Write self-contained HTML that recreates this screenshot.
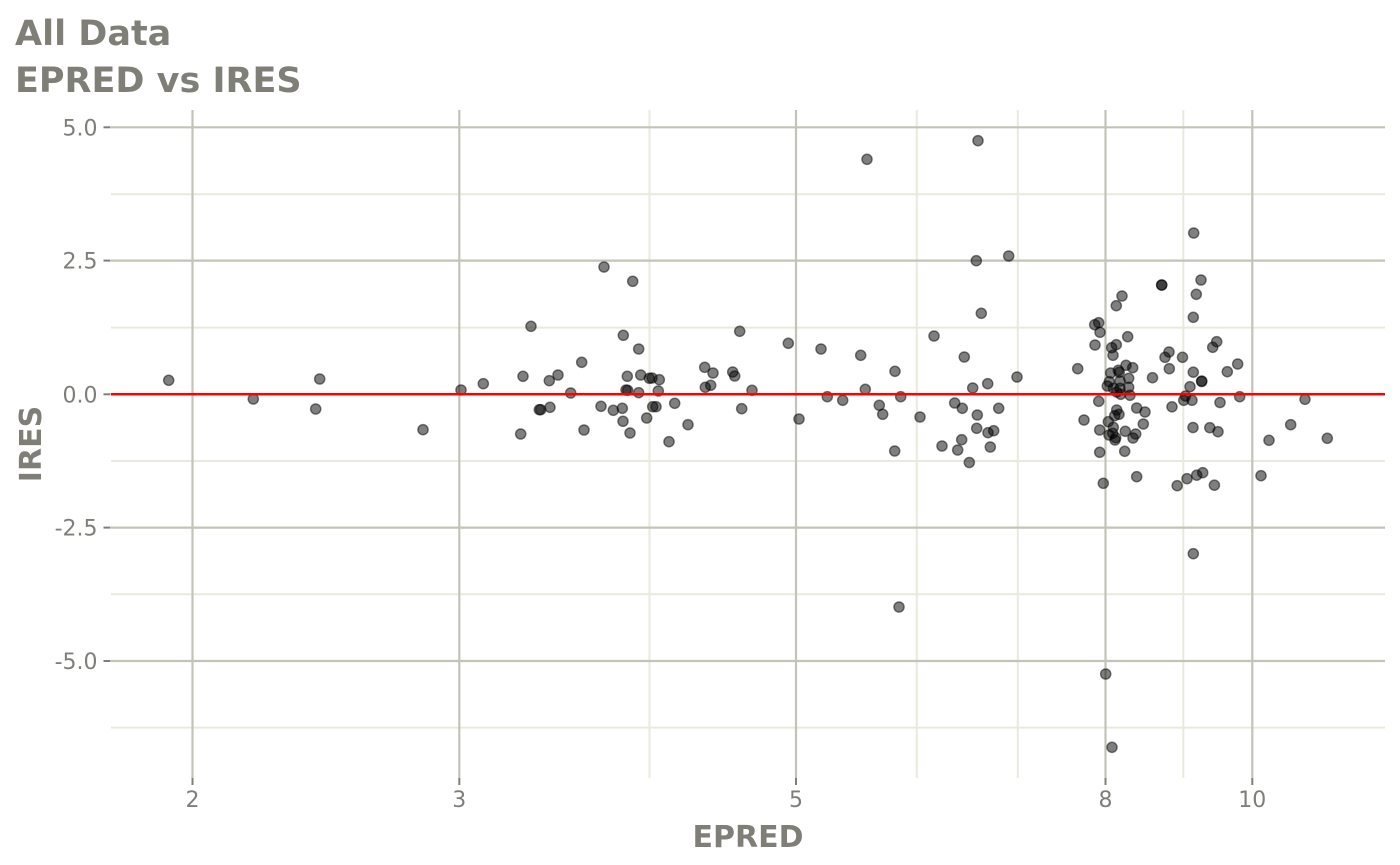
<!DOCTYPE html>
<html><head><meta charset="utf-8"><style>
html,body{margin:0;padding:0;background:#fff;}
svg{display:block;}
</style></head><body>
<svg width="1400" height="865" viewBox="0 0 1400 865" xmlns="http://www.w3.org/2000/svg" font-family="DejaVu Sans, Liberation Sans, sans-serif">
<rect width="1400" height="865" fill="#fff"/>
<g stroke="#e9e9dd" stroke-width="2">
<line x1="111" x2="1385" y1="194.3" y2="194.3"/>
<line x1="111" x2="1385" y1="327.6" y2="327.6"/>
<line x1="111" x2="1385" y1="461" y2="461"/>
<line x1="111" x2="1385" y1="594.3" y2="594.3"/>
<line x1="111" x2="1385" y1="727.6" y2="727.6"/>
<line x1="649.5" x2="649.5" y1="110" y2="778"/>
<line x1="916.8" x2="916.8" y1="110" y2="778"/>
<line x1="1017.8" x2="1017.8" y1="110" y2="778"/>
<line x1="1183.3" x2="1183.3" y1="110" y2="778"/>
</g>
<g stroke="#c3c3b7" stroke-width="2.2">
<line x1="111" x2="1385" y1="127.3" y2="127.3"/>
<line x1="111" x2="1385" y1="260.6" y2="260.6"/>
<line x1="111" x2="1385" y1="527.6" y2="527.6"/>
<line x1="111" x2="1385" y1="661" y2="661"/>
<line x1="111" x2="1385" y1="394.3" y2="394.3"/>
<line x1="192.5" x2="192.5" y1="110" y2="778"/>
<line x1="459.3" x2="459.3" y1="110" y2="778"/>
<line x1="796" x2="796" y1="110" y2="778"/>
<line x1="1105.5" x2="1105.5" y1="110" y2="778"/>
<line x1="1252.3" x2="1252.3" y1="110" y2="778"/>
</g>
<g stroke="#7f7f7a" stroke-width="2">
<line x1="103.5" x2="110.5" y1="127.3" y2="127.3"/>
<line x1="103.5" x2="110.5" y1="260.6" y2="260.6"/>
<line x1="103.5" x2="110.5" y1="394.3" y2="394.3"/>
<line x1="103.5" x2="110.5" y1="527.6" y2="527.6"/>
<line x1="103.5" x2="110.5" y1="661" y2="661"/>
<line x1="192.5" x2="192.5" y1="778" y2="785"/>
<line x1="459.3" x2="459.3" y1="778" y2="785"/>
<line x1="796" x2="796" y1="778" y2="785"/>
<line x1="1105.5" x2="1105.5" y1="778" y2="785"/>
<line x1="1252.3" x2="1252.3" y1="778" y2="785"/>
</g>
<g fill="#000" fill-opacity="0.5" stroke="#000" stroke-opacity="0.5" stroke-width="1.4">
<circle cx="168.7" cy="380.3" r="5.1"/>
<circle cx="253.3" cy="399" r="5.1"/>
<circle cx="319.7" cy="379" r="5.1"/>
<circle cx="315.7" cy="409" r="5.1"/>
<circle cx="423" cy="429.7" r="5.1"/>
<circle cx="461" cy="390" r="5.1"/>
<circle cx="483.3" cy="383.7" r="5.1"/>
<circle cx="531" cy="326.3" r="5.1"/>
<circle cx="523" cy="376.3" r="5.1"/>
<circle cx="520.7" cy="434" r="5.1"/>
<circle cx="549.3" cy="380.7" r="5.1"/>
<circle cx="558" cy="375" r="5.1"/>
<circle cx="539.3" cy="409.7" r="5.1"/>
<circle cx="540.7" cy="409.7" r="5.1"/>
<circle cx="550" cy="407.3" r="5.1"/>
<circle cx="604" cy="267" r="5.1"/>
<circle cx="632.7" cy="281.3" r="5.1"/>
<circle cx="623.3" cy="335.3" r="5.1"/>
<circle cx="638.7" cy="349" r="5.1"/>
<circle cx="581.7" cy="362.3" r="5.1"/>
<circle cx="739.7" cy="331.3" r="5.1"/>
<circle cx="788.3" cy="343.3" r="5.1"/>
<circle cx="821" cy="349" r="5.1"/>
<circle cx="860.7" cy="355.3" r="5.1"/>
<circle cx="934" cy="336" r="5.1"/>
<circle cx="964.3" cy="357" r="5.1"/>
<circle cx="895" cy="371.3" r="5.1"/>
<circle cx="704.7" cy="367.3" r="5.1"/>
<circle cx="713" cy="373" r="5.1"/>
<circle cx="732.7" cy="372" r="5.1"/>
<circle cx="734.7" cy="376" r="5.1"/>
<circle cx="627.3" cy="376.3" r="5.1"/>
<circle cx="640.7" cy="375" r="5.1"/>
<circle cx="649.3" cy="378.3" r="5.1"/>
<circle cx="652" cy="378" r="5.1"/>
<circle cx="659.3" cy="379.7" r="5.1"/>
<circle cx="570.7" cy="393" r="5.1"/>
<circle cx="626" cy="390" r="5.1"/>
<circle cx="627.7" cy="390.3" r="5.1"/>
<circle cx="638.7" cy="392.7" r="5.1"/>
<circle cx="658.3" cy="391" r="5.1"/>
<circle cx="705.3" cy="387.3" r="5.1"/>
<circle cx="710.7" cy="385.3" r="5.1"/>
<circle cx="752" cy="390.3" r="5.1"/>
<circle cx="865.3" cy="389.3" r="5.1"/>
<circle cx="972.7" cy="388" r="5.1"/>
<circle cx="827.3" cy="396.7" r="5.1"/>
<circle cx="842.7" cy="400.3" r="5.1"/>
<circle cx="900.7" cy="396.7" r="5.1"/>
<circle cx="601" cy="406.3" r="5.1"/>
<circle cx="613.3" cy="410.3" r="5.1"/>
<circle cx="622.3" cy="408.3" r="5.1"/>
<circle cx="652.7" cy="406.7" r="5.1"/>
<circle cx="656" cy="406.7" r="5.1"/>
<circle cx="674.7" cy="403.3" r="5.1"/>
<circle cx="741.7" cy="408.7" r="5.1"/>
<circle cx="879.3" cy="405.3" r="5.1"/>
<circle cx="882.7" cy="414.3" r="5.1"/>
<circle cx="954.7" cy="403" r="5.1"/>
<circle cx="962.3" cy="408.3" r="5.1"/>
<circle cx="977.3" cy="415" r="5.1"/>
<circle cx="623" cy="421.3" r="5.1"/>
<circle cx="646.7" cy="418" r="5.1"/>
<circle cx="799" cy="419" r="5.1"/>
<circle cx="920" cy="417" r="5.1"/>
<circle cx="976.7" cy="428.3" r="5.1"/>
<circle cx="584" cy="430" r="5.1"/>
<circle cx="630" cy="433" r="5.1"/>
<circle cx="688" cy="424.7" r="5.1"/>
<circle cx="669" cy="441.7" r="5.1"/>
<circle cx="894.7" cy="451" r="5.1"/>
<circle cx="942" cy="446" r="5.1"/>
<circle cx="957.7" cy="450" r="5.1"/>
<circle cx="961.7" cy="439.7" r="5.1"/>
<circle cx="969.3" cy="462.5" r="5.1"/>
<circle cx="1008.7" cy="256" r="5.1"/>
<circle cx="976.3" cy="260.7" r="5.1"/>
<circle cx="981.3" cy="313.3" r="5.1"/>
<circle cx="987.7" cy="383.7" r="5.1"/>
<circle cx="998.7" cy="408.3" r="5.1"/>
<circle cx="988" cy="432.7" r="5.1"/>
<circle cx="993.7" cy="430.7" r="5.1"/>
<circle cx="990.3" cy="447" r="5.1"/>
<circle cx="1017" cy="377" r="5.1"/>
<circle cx="1077.7" cy="368.7" r="5.1"/>
<circle cx="1084" cy="420" r="5.1"/>
<circle cx="867" cy="159.3" r="5.1"/>
<circle cx="978" cy="140.7" r="5.1"/>
<circle cx="899" cy="607" r="5.1"/>
<circle cx="1161.7" cy="285" r="5.1"/>
<circle cx="1161.7" cy="285" r="5.1"/>
<circle cx="1201" cy="280" r="5.1"/>
<circle cx="1196.3" cy="294.3" r="5.1"/>
<circle cx="1193.3" cy="317.3" r="5.1"/>
<circle cx="1193.7" cy="233" r="5.1"/>
<circle cx="1122" cy="296" r="5.1"/>
<circle cx="1116.3" cy="305.7" r="5.1"/>
<circle cx="1094.7" cy="324.7" r="5.1"/>
<circle cx="1098.7" cy="322.7" r="5.1"/>
<circle cx="1100" cy="332.3" r="5.1"/>
<circle cx="1127.7" cy="336.7" r="5.1"/>
<circle cx="1095" cy="345" r="5.1"/>
<circle cx="1111.7" cy="347.7" r="5.1"/>
<circle cx="1116.3" cy="344.7" r="5.1"/>
<circle cx="1113" cy="355.3" r="5.1"/>
<circle cx="1169" cy="352" r="5.1"/>
<circle cx="1165" cy="357.3" r="5.1"/>
<circle cx="1182.5" cy="357.3" r="5.1"/>
<circle cx="1216.7" cy="341.7" r="5.1"/>
<circle cx="1212.7" cy="347.3" r="5.1"/>
<circle cx="1237.7" cy="364" r="5.1"/>
<circle cx="1227.3" cy="371.7" r="5.1"/>
<circle cx="1110.7" cy="373" r="5.1"/>
<circle cx="1118.3" cy="370.3" r="5.1"/>
<circle cx="1119.3" cy="372.3" r="5.1"/>
<circle cx="1126" cy="365.3" r="5.1"/>
<circle cx="1132.7" cy="367.7" r="5.1"/>
<circle cx="1152.5" cy="377.7" r="5.1"/>
<circle cx="1169.3" cy="368.7" r="5.1"/>
<circle cx="1193.3" cy="372.2" r="5.1"/>
<circle cx="1201.7" cy="381" r="5.1"/>
<circle cx="1201.7" cy="381.5" r="5.1"/>
<circle cx="1109.3" cy="381.7" r="5.1"/>
<circle cx="1120" cy="381" r="5.1"/>
<circle cx="1128.7" cy="378.3" r="5.1"/>
<circle cx="1107.3" cy="386" r="5.1"/>
<circle cx="1113.3" cy="388.3" r="5.1"/>
<circle cx="1120" cy="388.3" r="5.1"/>
<circle cx="1128.7" cy="387.3" r="5.1"/>
<circle cx="1116.7" cy="392" r="5.1"/>
<circle cx="1120.7" cy="394.3" r="5.1"/>
<circle cx="1130" cy="395.3" r="5.1"/>
<circle cx="1190" cy="386.7" r="5.1"/>
<circle cx="1185.5" cy="396" r="5.1"/>
<circle cx="1183.7" cy="400.3" r="5.1"/>
<circle cx="1192" cy="400.3" r="5.1"/>
<circle cx="1098.7" cy="401.3" r="5.1"/>
<circle cx="1172" cy="406.8" r="5.1"/>
<circle cx="1220" cy="402.5" r="5.1"/>
<circle cx="1239.7" cy="396.7" r="5.1"/>
<circle cx="1305" cy="399.3" r="5.1"/>
<circle cx="1136.7" cy="408" r="5.1"/>
<circle cx="1145" cy="412" r="5.1"/>
<circle cx="1116.7" cy="410" r="5.1"/>
<circle cx="1119" cy="414.3" r="5.1"/>
<circle cx="1114.7" cy="415.7" r="5.1"/>
<circle cx="1108.3" cy="421.7" r="5.1"/>
<circle cx="1143.3" cy="424" r="5.1"/>
<circle cx="1113.3" cy="427.3" r="5.1"/>
<circle cx="1099.7" cy="430" r="5.1"/>
<circle cx="1125.3" cy="431.3" r="5.1"/>
<circle cx="1109" cy="435" r="5.1"/>
<circle cx="1112.7" cy="433.3" r="5.1"/>
<circle cx="1115" cy="440" r="5.1"/>
<circle cx="1115.7" cy="437.7" r="5.1"/>
<circle cx="1135.7" cy="434" r="5.1"/>
<circle cx="1133" cy="438" r="5.1"/>
<circle cx="1193" cy="427.5" r="5.1"/>
<circle cx="1209.8" cy="427.7" r="5.1"/>
<circle cx="1218" cy="431.7" r="5.1"/>
<circle cx="1290.7" cy="424.7" r="5.1"/>
<circle cx="1269" cy="440.3" r="5.1"/>
<circle cx="1327.3" cy="438.3" r="5.1"/>
<circle cx="1099.7" cy="452.3" r="5.1"/>
<circle cx="1124.7" cy="451.3" r="5.1"/>
<circle cx="1103.3" cy="483.3" r="5.1"/>
<circle cx="1136.7" cy="476.7" r="5.1"/>
<circle cx="1177.2" cy="485.7" r="5.1"/>
<circle cx="1187" cy="478.7" r="5.1"/>
<circle cx="1196.7" cy="475.2" r="5.1"/>
<circle cx="1202.7" cy="472.7" r="5.1"/>
<circle cx="1214.4" cy="485.2" r="5.1"/>
<circle cx="1261" cy="475.7" r="5.1"/>
<circle cx="1193.3" cy="553.7" r="5.1"/>
<circle cx="1105.7" cy="674" r="5.1"/>
<circle cx="1112" cy="747.3" r="5.1"/>
</g>
<line x1="111" x2="1385" y1="394.3" y2="394.3" stroke="#ff0000" stroke-width="2.5"/>
<g fill="#7f7f77" font-weight="bold" font-size="35">
<text x="15" y="45">All Data</text>
<text x="15" y="92">EPRED vs IRES</text>
</g>
<g fill="#7f7f7a" font-size="22" text-anchor="end">
<text x="97.5" y="135.3">5.0</text>
<text x="97.5" y="268.6">2.5</text>
<text x="97.5" y="402.3">0.0</text>
<text x="97.5" y="535.6">-2.5</text>
<text x="97.5" y="669">-5.0</text>
</g>
<g fill="#7f7f7a" font-size="22" text-anchor="middle">
<text x="192.5" y="807">2</text>
<text x="459.3" y="807">3</text>
<text x="796" y="807">5</text>
<text x="1105.5" y="807">8</text>
<text x="1252.3" y="807">10</text>
</g>
<g fill="#7f7f77" font-weight="bold" font-size="30" text-anchor="middle">
<text x="748" y="847">EPRED</text>
<text transform="translate(41,444) rotate(-90)">IRES</text>
</g>
</svg>
</body></html>
